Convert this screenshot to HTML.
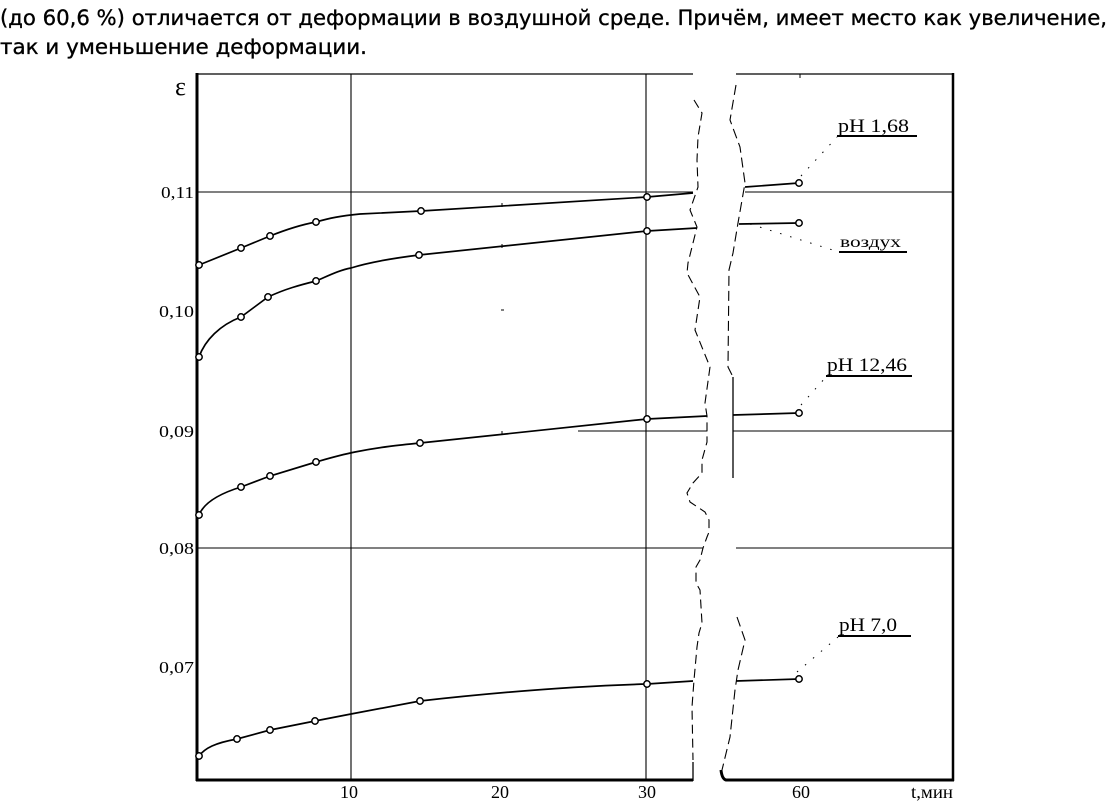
<!DOCTYPE html>
<html>
<head>
<meta charset="utf-8">
<style>
html,body{margin:0;padding:0;background:#fff;}
svg{display:block;}
</style>
</head>
<body>
<svg width="1109" height="807" viewBox="0 0 1109 807" xmlns="http://www.w3.org/2000/svg">
<rect width="1109" height="807" fill="#fff"/>
<!-- paragraph text -->
<g font-family="'DejaVu Sans','Liberation Sans',sans-serif" font-size="21" fill="#000" stroke="#000" stroke-width="0.35">
<text x="0" y="25" textLength="1107" lengthAdjust="spacingAndGlyphs">(до 60,6 %) отличается от деформации в воздушной среде. Причём, имеет место как увеличение,</text>
<text x="0" y="54" textLength="367" lengthAdjust="spacingAndGlyphs">так и уменьшение деформации.</text>
</g>

<!-- frame / axes -->
<g stroke="#000" fill="none">
<line x1="197" y1="73" x2="197" y2="781" stroke-width="3"/>
<line x1="196" y1="780" x2="693" y2="780" stroke-width="3"/>
<line x1="693" y1="781" x2="693" y2="762" stroke-width="1.3"/>
<path d="M721,770 Q722,779 726,780 L954,780" stroke-width="3"/>
<line x1="953" y1="73" x2="953" y2="781" stroke-width="2.5"/>
<line x1="197" y1="74" x2="693" y2="74" stroke-width="1.3"/>
<line x1="736" y1="74" x2="953" y2="74" stroke-width="1.3"/>
<!-- gridlines -->
<line x1="351" y1="74" x2="351" y2="780" stroke-width="1.1"/>
<line x1="646" y1="74" x2="646" y2="780" stroke-width="1.1"/>
<line x1="197" y1="192" x2="693" y2="192" stroke-width="1.1"/>
<line x1="745" y1="192" x2="953" y2="192" stroke-width="1.1"/>
<line x1="578" y1="431" x2="707" y2="431" stroke-width="1.1"/>
<line x1="733" y1="431" x2="953" y2="431" stroke-width="1.1"/>
<line x1="197" y1="548" x2="703" y2="548" stroke-width="1.1"/>
<line x1="736" y1="548" x2="953" y2="548" stroke-width="1.1"/>
<!-- break -->
<line x1="733" y1="377" x2="733" y2="478" stroke-width="1.3"/>
<path d="M694,100 L702,113 L698,137 L697,160 L698,187 L690,210 L697,227 L693,243 L688,263 L687,273 L700,297 L695,330 L710,367 L705,403 L707,416 L707,442 L702,460 L702,473 L693,483 L687,493 L690,502 L705,512 L709,520 L709,532 L707,537 L703,548 L700,560 L696,567 L696,583 L700,590 L702,623 L699,633 L697,647 L694,680 L692,707 L693,760" stroke-width="1.1" stroke-dasharray="9,5"/>
<path d="M736,85 L730,120 L740,147 L745,183 L738,223 L733,253 L729,270 L728,367 L733,377" stroke-width="1.1" stroke-dasharray="10,5"/>
<path d="M737,617 L745,640 L738,670 L735,690 L730,737 L722,770" stroke-width="1.1" stroke-dasharray="10,5"/>
<!-- stray ticks -->
<line x1="502" y1="203" x2="502" y2="207" stroke-width="1"/>
<line x1="502" y1="244" x2="502" y2="248" stroke-width="1"/>
<line x1="501" y1="310" x2="504" y2="310" stroke-width="1"/>
<line x1="502" y1="431" x2="502" y2="435" stroke-width="1"/>
<line x1="800" y1="74" x2="800" y2="78" stroke-width="1"/>
</g>

<!-- curves -->
<g stroke="#000" fill="none" stroke-width="1.7">
<path d="M199,265 L241,248 L270,236 C290,228 305,224 316,222 C330,218 340,216 360,214 L421,211 L647,197 L693,193"/>
<path d="M745,187 L799,183"/>
<path d="M199,357 C205,340 220,325 241,317 L268,297 C285,289 300,285 316,281 C330,275 340,270 351,268 C370,262 395,258 419,255 L647,231 L697,228"/>
<path d="M739,224 L799,223"/>
<path d="M199,515 C203,505 215,495 241,487 L270,476 L316,462 C330,458 340,455 355,452 C380,447 400,445 420,443 L647,419 L707,416"/>
<path d="M733,415 L799,413"/>
<path d="M199,756 C205,748 215,743 237,739 L270,730 L315,721 L351,714 L420,701 C500,692 580,686 647,684 L693,681"/>
<path d="M736,681 L799,679"/>
</g>

<!-- leaders -->
<g stroke="#000" fill="none" stroke-width="1" stroke-dasharray="1.5,9">
<path d="M801,176 L837,137"/>
<path d="M750,224 L839,252"/>
<path d="M801,405 L826,377"/>
<path d="M797,672 L838,637"/>
</g>

<!-- markers -->
<g stroke="#000" fill="#fff" stroke-width="1.5">
<circle cx="199" cy="265" r="3.2"/><circle cx="241" cy="248" r="3.2"/><circle cx="270" cy="236" r="3.2"/><circle cx="316" cy="222" r="3.2"/><circle cx="421" cy="211" r="3.2"/><circle cx="647" cy="197" r="3.2"/><circle cx="799" cy="183" r="3.2"/>
<circle cx="199" cy="357" r="3.2"/><circle cx="241" cy="317" r="3.2"/><circle cx="268" cy="297" r="3.2"/><circle cx="316" cy="281" r="3.2"/><circle cx="419" cy="255" r="3.2"/><circle cx="647" cy="231" r="3.2"/><circle cx="799" cy="223" r="3.2"/>
<circle cx="199" cy="515" r="3.2"/><circle cx="241" cy="487" r="3.2"/><circle cx="270" cy="476" r="3.2"/><circle cx="316" cy="462" r="3.2"/><circle cx="420" cy="443" r="3.2"/><circle cx="647" cy="419" r="3.2"/><circle cx="799" cy="413" r="3.2"/>
<circle cx="199" cy="756" r="3.2"/><circle cx="237" cy="739" r="3.2"/><circle cx="270" cy="730" r="3.2"/><circle cx="315" cy="721" r="3.2"/><circle cx="420" cy="701" r="3.2"/><circle cx="647" cy="684" r="3.2"/><circle cx="799" cy="679" r="3.2"/>
</g>

<!-- labels -->
<g font-family="'Liberation Serif',serif" fill="#000">
<text x="175" y="95" font-size="26">ε</text>
<g font-size="17" text-anchor="end">
<text x="194" y="198" textLength="33" lengthAdjust="spacingAndGlyphs">0,11</text>
<text x="194" y="317" textLength="35" lengthAdjust="spacingAndGlyphs">0,10</text>
<text x="194" y="437" textLength="35" lengthAdjust="spacingAndGlyphs">0,09</text>
<text x="194" y="554" textLength="35" lengthAdjust="spacingAndGlyphs">0,08</text>
<text x="194" y="673" textLength="35" lengthAdjust="spacingAndGlyphs">0,07</text>
</g>
<g font-size="18" text-anchor="middle">
<text x="349" y="798">10</text>
<text x="500" y="798">20</text>
<text x="647" y="798">30</text>
<text x="801" y="798">60</text>
</g>
<text x="911" y="798" font-size="18" textLength="42" lengthAdjust="spacingAndGlyphs">t,мин</text>
<g font-size="19">
<text x="838" y="132" textLength="71" lengthAdjust="spacingAndGlyphs">pH 1,68</text>
<text x="840" y="247" font-size="16" textLength="61" lengthAdjust="spacingAndGlyphs">воздух</text>
<text x="827" y="371" textLength="80" lengthAdjust="spacingAndGlyphs">pH 12,46</text>
<text x="839" y="631" textLength="58" lengthAdjust="spacingAndGlyphs">pH 7,0</text>
</g>
</g>
<g stroke="#000" stroke-width="2">
<line x1="837" y1="136" x2="917" y2="136"/>
<line x1="839" y1="252" x2="907" y2="252"/>
<line x1="826" y1="376" x2="912" y2="376"/>
<line x1="838" y1="636" x2="911" y2="636"/>
</g>
</svg>
</body>
</html>
